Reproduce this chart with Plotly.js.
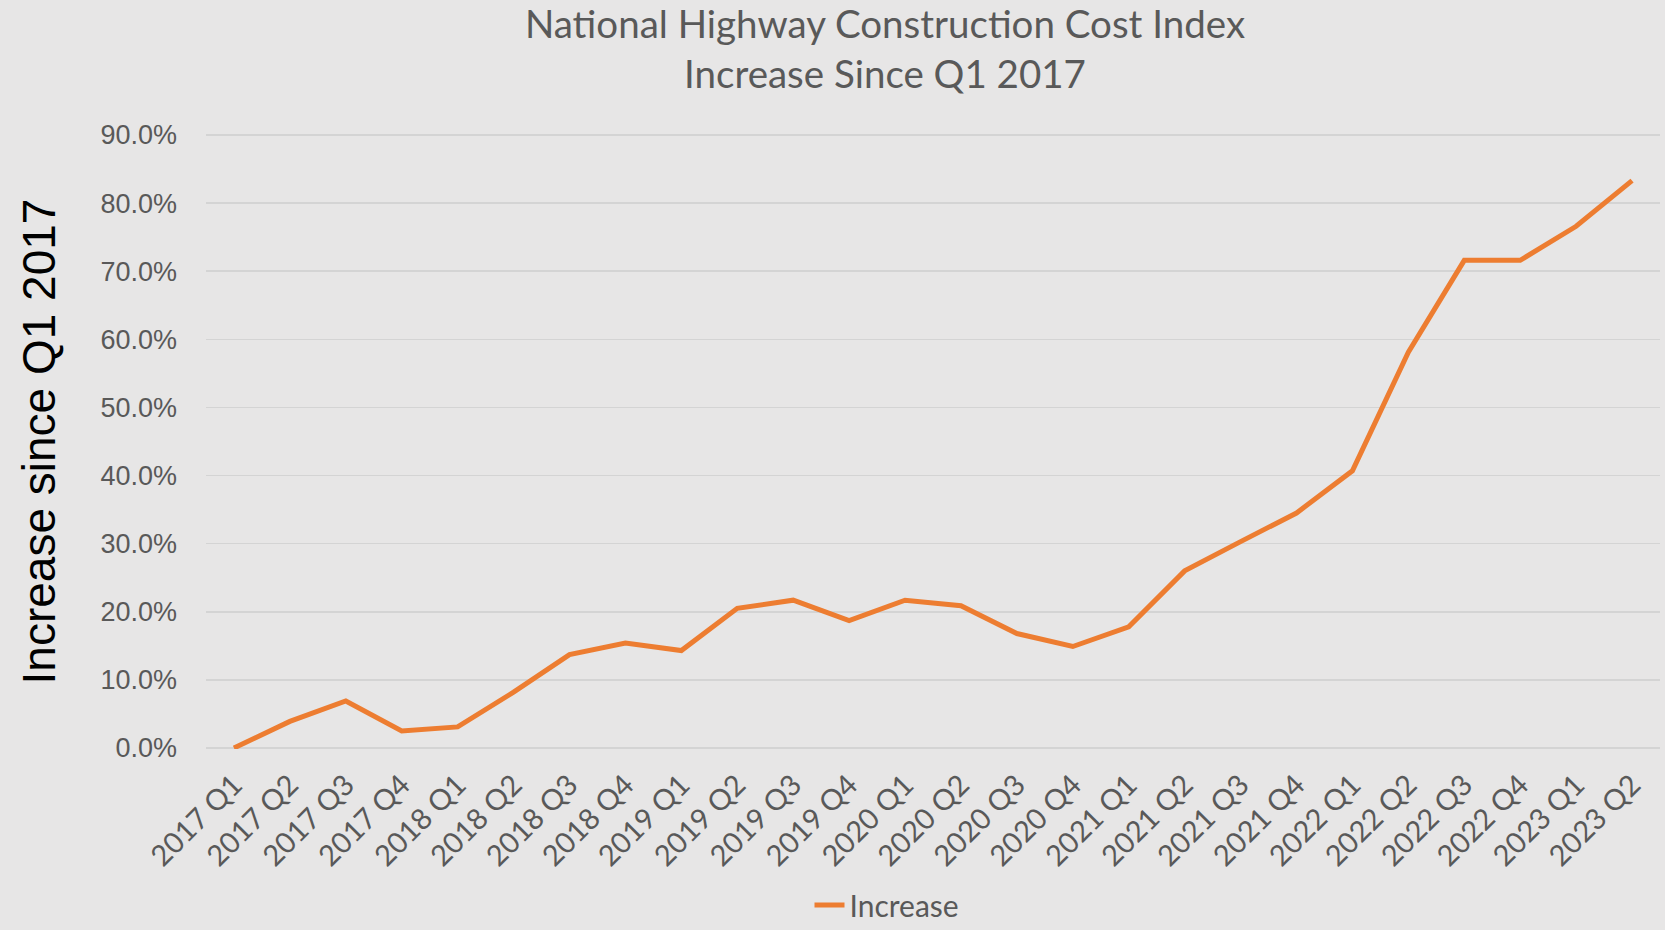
<!DOCTYPE html>
<html>
<head>
<meta charset="utf-8">
<script src="https://cdn.plot.ly/plotly-3.0.1.min.js"></script>
<style>
  html, body { margin: 0; padding: 0; background: #e7e6e6; }
  #chart { width: 1665px; height: 930px; }
</style>
</head>
<body>
<div id="chart"></div>
<script>
const quarters = [
  "2017 Q1","2017 Q2","2017 Q3","2017 Q4",
  "2018 Q1","2018 Q2","2018 Q3","2018 Q4",
  "2019 Q1","2019 Q2","2019 Q3","2019 Q4",
  "2020 Q1","2020 Q2","2020 Q3","2020 Q4",
  "2021 Q1","2021 Q2","2021 Q3","2021 Q4",
  "2022 Q1","2022 Q2","2022 Q3","2022 Q4",
  "2023 Q1","2023 Q2"
];
const increase = [
  0.000, 0.039, 0.069, 0.025,
  0.031, 0.082, 0.137, 0.154,
  0.143, 0.205, 0.217, 0.187,
  0.217, 0.209, 0.168, 0.149,
  0.178, 0.260, 0.303, 0.345,
  0.407, 0.581, 0.716, 0.716,
  0.766, 0.833
];
const seriesName = "Increase";
const titleLines = ["National Highway Construction Cost Index", "Increase Since Q1 2017"];
const yTitle = "Increase since Q1 2017";
const yTicks = [0, 0.1, 0.2, 0.3, 0.4, 0.5, 0.6, 0.7, 0.8, 0.9];

const trace = {
  x: quarters,
  y: increase,
  type: "scatter",
  mode: "lines",
  name: seriesName,
  line: { color: "#ed7d31", width: 5 },
  showlegend: true
};

const layout = {
  width: 1665,
  height: 930,
  paper_bgcolor: "#e7e6e6",
  plot_bgcolor: "#e7e6e6",
  margin: { l: 206, r: 5, t: 134, b: 181, pad: 0 },
  title: {
    text: titleLines.join("<br>"),
    font: { family: "Lato, 'Open Sans', sans-serif", size: 38.5, color: "#595959" },
    x: 885 / 1665,
    xanchor: "center",
    xref: "container",
    y: 1 - 38 / 930,
    yanchor: "top",
    yref: "container"
  },
  xaxis: {
    type: "category",
    tickangle: -45,
    tickfont: { family: "Lato, 'Open Sans', sans-serif", size: 29, color: "#595959" },
    showgrid: false,
    showline: false,
    zeroline: false,
    ticks: "",
    ticklabelstandoff: 12,
    automargin: false,
    range: [-0.5, quarters.length - 0.5]
  },
  yaxis: {
    range: [-0.0015, 0.9015],
    tickvals: yTicks,
    tickformat: ".1%",
    tickfont: { family: "'Liberation Sans', Arial, sans-serif", size: 27, color: "#595959" },
    gridcolor: "#d4d4d4",
    gridwidth: 1.5,
    zeroline: false,
    showline: false,
    ticks: "",
    ticklabelstandoff: 28,
    automargin: false,
    title: {
      text: yTitle,
      font: { family: "'Liberation Sans', Arial, sans-serif", size: 46, color: "#000000" },
      standoff: 30
    }
  },
  legend: {
    orientation: "h",
    x: 887 / 1665,
    xref: "container",
    xanchor: "center",
    y: 1 - 905 / 930,
    yref: "container",
    yanchor: "middle",
    bgcolor: "rgba(0,0,0,0)",
    font: { family: "Lato, 'Open Sans', sans-serif", size: 30, color: "#595959" }
  },
  showlegend: true
};

Plotly.newPlot("chart", [trace], layout, { displayModeBar: false, staticPlot: true });
</script>
</body>
</html>
